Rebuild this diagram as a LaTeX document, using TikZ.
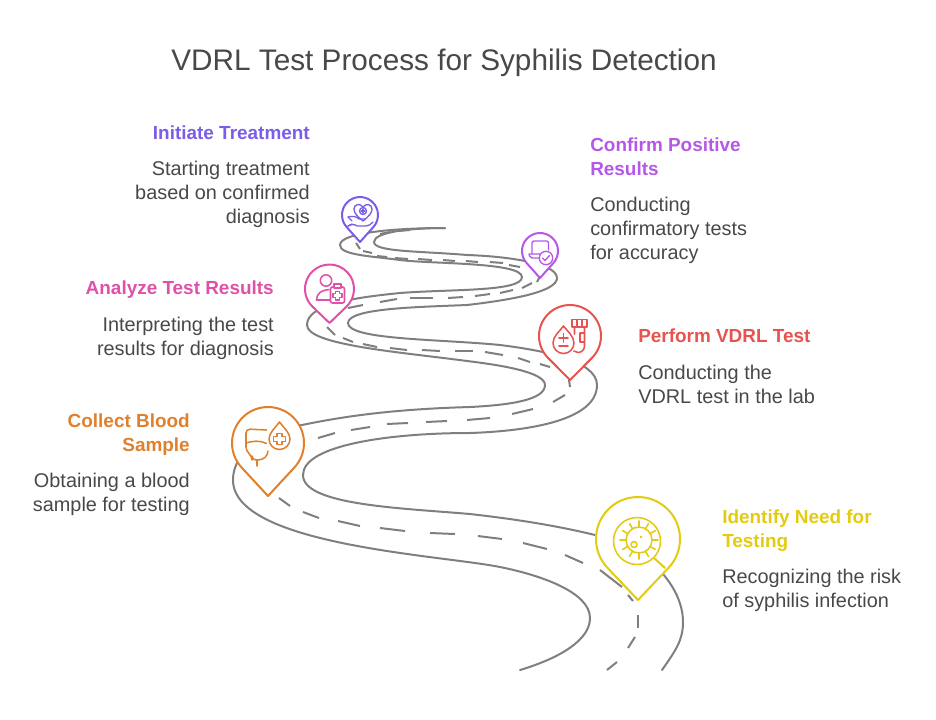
\documentclass[tikz,border=0pt]{standalone}
\usepackage{fontspec}
\setmainfont{Liberation Sans}
\definecolor{roadgray}{HTML}{7F7F7F}
\definecolor{txt}{HTML}{484848}
\definecolor{cyel}{HTML}{E3CB10}
\definecolor{cora}{HTML}{E0802C}
\definecolor{cred}{HTML}{E8524F}
\definecolor{cpnk}{HTML}{E050A8}
\definecolor{cpur}{HTML}{B558E8}
\definecolor{cvio}{HTML}{7C5CE8}
\newcommand\mypin[5]{%
 \pgfmathsetmacro\pa{acos(#3/#4)}
 \begin{scope}[shift={(#1,#2)},x=.75pt,y=.75pt]
 \draw[#5,line width=1.5pt,line join=round,fill=white] (0,-#4) -- (-90+\pa:#3) arc[start angle=-90+\pa,end angle=270-\pa,radius=#3] -- cycle;
 \end{scope}}
\tikzset{
 road/.style={draw=roadgray,line width=1.5pt,line cap=round},
 lane/.style={draw=roadgray,line width=1.5pt},
 icon/.style={line width=1.15pt,line join=round,line cap=round},
 head/.style={font=\bfseries\fontsize{14.2}{18}\selectfont,inner sep=0pt},
 body/.style={font=\fontsize{14.9}{18}\selectfont,text=txt,inner sep=0pt},
 lft/.style={align=right,anchor=north east},
 rgt/.style={align=left,anchor=north west},
}
\begin{document}
\begin{tikzpicture}[x=.75pt,y=-.75pt]
\useasboundingbox (0,0) rectangle (936,719);
% road edges
\draw[road] (662,670) .. controls (676,650) and (683,640) .. (683,622) .. controls (683,585) and (645,545) .. (595,535)
 .. controls (550,524) and (505,518) .. (470,514) .. controls (400,508) and (303,505) .. (303,475) .. controls (303,445) and (390,433) .. (470,433) .. controls (530,431) and (597,420) .. (597,385) .. controls (597,360) and (540,350) .. (500,345) .. controls (440,339) and (348,340) .. (348,323) .. controls (348,308) and (420,307) .. (467,305) .. controls (510,300) and (557,292) .. (557,278) .. controls (557,262) and (500,256) .. (467,255) .. controls (420,251) and (374,252) .. (374,242) .. controls (374,232) and (410,228) .. (445,228);
\draw[road] (520,670) .. controls (560,658) and (590,640) .. (590,618) .. controls (590,592) and (540,575) .. (500,567) .. controls (440,555) and (233,545) .. (233,480) .. controls (233,445) and (280,428) .. (302,425) .. controls (350,415) and (400,409) .. (470,407) .. controls (510,405) and (545,400) .. (545,385) .. controls (545,372) and (500,365) .. (467,361) .. controls (400,352) and (307,345) .. (307,325) .. controls (307,305) and (350,298) .. (400,293) .. controls (450,289) and (522,292) .. (522,277) .. controls (522,262) and (430,264) .. (400,260) .. controls (370,256) and (340,255) .. (340,245) .. controls (340,232) and (400,228) .. (445,228);
% centre dashes
\foreach \xa/\ya/\xb/\yb in {
 607/670/617/662, 628/648/635/637, 638/615/638/628, 628/595/633/601, 600/570/622/587,
 565/555/583/563, 523/543/547/549, 478/536/502/539, 430/533/455/534, 380/528/405/531,
 338/521/360/526, 303/512/319/518, 279/498/290/506,
 318/438/335/433, 351/430/370/427, 387/424/408/423, 426/422/447/421, 467/420/490/418,
 512/414/533/409, 553/402/565/395, 570/387/569/380,
 327/327/335/335, 343/338/353/342, 363/344/377/347, 390/348/407/350, 422/350/440/351,
 455/351/473/351, 485/352/503/355, 518/358/530/362, 540/364/550/367,
 348/308/363/305, 380/302/397/299, 410/298/433/298, 448/298/463/297, 475/296/490/294,
 500/293/513/290, 522/288/532/283, 537/282/539/278,
 356/243/360/249, 363/251/372/253, 377/256/387/257, 395/258/408/259, 418/259/432/260,
 443/260/455/261, 466/261/478/262, 490/262/503/263, 509/265/520/267,
 380/234/390/232, 397/231/410/230}
 {\draw[lane] (\xa,\ya) -- (\xb,\yb);}
% pins
\mypin{638}{539}{42}{61}{cyel}
\mypin{268}{443}{36}{53}{cora}
\mypin{570}{336}{31}{44}{cred}
\mypin{329.5}{289}{24.5}{34}{cpnk}
\mypin{540}{251}{18}{27}{cpur}
\mypin{360}{215}{18}{27}{cvio}
% yellow icon
\begin{scope}[cyel,icon]
\draw (637,541) circle[radius=23.5];
\draw (639,540) circle[radius=13];
\foreach \a in {0,30,...,330}{\draw (639,540)++(\a:13) -- ++(\a:6);}
\draw (634,544.5) circle[radius=3];
\fill (641,537) circle[radius=1.3];
\draw[line width=1.5pt] (654,558) -- (665,568);
\end{scope}
% orange icon
\begin{scope}[cora,icon]
\draw[rounded corners=3pt] (266.5,430) -- (246,429) -- (246,451) -- (252,456) -- (252,460) -- (262,460) -- (268,455) -- (268,451);
\draw (257,460) -- (257,466);
\draw (246,443) .. controls (252,441) and (260,440) .. (266.5,443.5);
\draw (279.5,422) .. controls (284,428) and (290,433) .. (290,439) arc[start angle=0,end angle=180,radius=10.5] .. controls (269,433) and (275,428) .. (279.5,422) -- cycle;
\draw (277,433.5)--(282,433.5)--(282,436.5)--(285.5,436.5)--(285.5,441.5)--(282,441.5)--(282,444.5)--(277,444.5)--(277,441.5)--(273.5,441.5)--(273.5,436.5)--(277,436.5)--cycle;
\end{scope}
% red icon
\begin{scope}[cred,icon]
\draw (563.5,326) .. controls (567,331) and (574,336) .. (574,343) arc[start angle=0,end angle=180,radius=10.5] .. controls (553,336) and (560,331) .. (563.5,326) -- cycle;
\draw (563.5,333.5) -- (563.5,342) (559,338) -- (568,338) (559,346) -- (568,346);
\draw (572,319.5) rectangle (587,327);
\draw (577,319.5) -- (577,327) (582,319.5) -- (582,327);
\draw (574.5,327) -- (574.5,334) (584.5,327) -- (584.5,346) arc[start angle=0,end angle=130,radius=6.5] ;
\draw (580,333) -- (584.5,333) (580,333) -- (580,342) -- (584.5,342);
\end{scope}
% pink icon
\begin{scope}[cpnk,icon]
\draw (326,280.5) circle[radius=5.7];
\draw (316.5,300) .. controls (316.5,293) and (322,290) .. (329,289.5) (316.5,300) -- (330,300);
\draw[rounded corners=1.5pt] (330.5,287) rectangle (344.5,303);
\draw[fill=white] (334,284) rectangle (341,288);
\draw (335.5,291.5)--(339.5,291.5)--(339.5,293.5)--(342,293.5)--(342,297.5)--(339.5,297.5)--(339.5,300)--(335.5,300)--(335.5,297.5)--(333,297.5)--(333,293.5)--(335.5,293.5)--cycle;
\end{scope}
% purple icon
\begin{scope}[cpur,icon,line width=1pt]
\draw[rounded corners=1.5pt] (532,254) -- (532,241) -- (548.5,241) -- (548.5,250);
\draw[rounded corners=1.5pt] (529,254) -- (540,254) (529,254) -- (530,258) -- (539,258);
\draw[fill=white] (546,258) circle[radius=6.7];
\draw (542.5,258) -- (545,260.5) -- (549.5,255.5);
\end{scope}
% violet icon
\begin{scope}[cvio,icon,line width=1pt]
\draw (363,221) .. controls (357,216) and (354,213) .. (354,209) .. controls (354,204) and (360,203) .. (363,207) .. controls (366,203) and (372,204) .. (372,209) .. controls (372,213) and (369,216) .. (363,221) -- cycle;
\draw (363,211) circle[radius=3.5];
\draw (361,211) -- (365,211) (363,209) -- (363,213);
\draw (348,217) .. controls (353,216) and (356,216) .. (359,219) -- (365,219) (348,226) .. controls (352,224) and (354,224) .. (357,226) -- (366,226) .. controls (369,226) and (371,224) .. (373,222);
\draw (352,221) -- (348,217) (348,226) -- (352,224);
\end{scope}
% texts
\node[font=\fontsize{22.3}{28}\selectfont,text=txt,inner sep=0pt] (title) at (444,63) {VDRL Test Process for Syphilis Detection};
\node[head,lft,text=cvio] (h1) at (310,126) {Initiate Treatment};
\node[body,lft] (b1) at (310,161) {Starting treatment\\based on confirmed\\diagnosis};
\node[head,rgt,text=cpur] (h2) at (590,138) {Confirm Positive\\Results};
\node[body,rgt] (b2) at (590,197) {Conducting\\confirmatory tests\\for accuracy};
\node[head,lft,text=cpnk] (h3) at (274,281) {Analyze Test Results};
\node[body,lft] (b3) at (274,317) {Interpreting the test\\results for diagnosis};
\node[head,rgt,text=cred] (h4) at (638,329) {Perform VDRL Test};
\node[body,rgt] (b4) at (638,365) {Conducting the\\VDRL test in the lab};
\node[head,lft,text=cora] (h5) at (190,414) {Collect Blood\\Sample};
\node[body,lft] (b5) at (190,473) {Obtaining a blood\\sample for testing};
\node[head,rgt,text=cyel] (h6) at (722,510) {Identify Need for\\Testing};
\node[body,rgt] (b6) at (722,569) {Recognizing the risk\\of syphilis infection};
\end{tikzpicture}
\end{document}
